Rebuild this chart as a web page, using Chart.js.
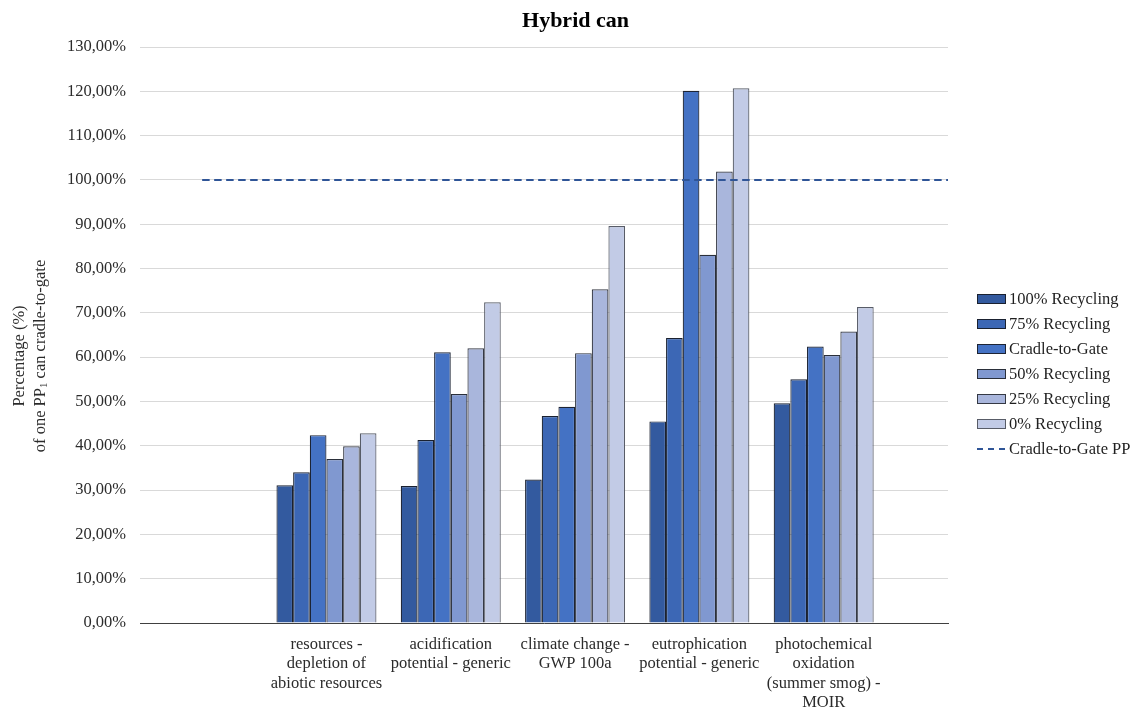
<!DOCTYPE html>
<html>
<head>
<meta charset="utf-8">
<title>Hybrid can</title>
<script src="https://cdn.jsdelivr.net/npm/chart.js@4.4.1/dist/chart.umd.min.js"></script>
<style>
  html, body { margin: 0; padding: 0; background: #ffffff; }
  canvas { display: block; }
</style>
</head>
<body>
<canvas id="chart" width="1138" height="711"></canvas>
<script>
// ---- data -------------------------------------------------------------
const chartTitle = 'Hybrid can';
const yTitleLine1 = 'Percentage (%)';
const yTitleLine2 = ['of one PP', '1', ' can cradle-to-gate']; // "1" is a subscript

// impact categories (first and last slots are empty)
const categories = [
  [''],
  ['resources -', 'depletion of', 'abiotic resources'],
  ['acidification', 'potential - generic'],
  ['climate change -', 'GWP 100a'],
  ['eutrophication', 'potential - generic'],
  ['photochemical', 'oxidation', '(summer smog) -', 'MOIR'],
  ['']
];

const seriesNames = [
  '100% Recycling', '75% Recycling', 'Cradle-to-Gate',
  '50% Recycling', '25% Recycling', '0% Recycling'
];
const lineName = 'Cradle-to-Gate PP';

// values in percent of one PP1 can cradle-to-gate
const recycling100 = [null, 31.1, 30.9, 32.4, 45.5, 49.6, null];
const recycling75  = [null, 34.0, 41.3, 46.7, 64.3, 55.0, null];
const cradleToGate = [null, 42.4, 61.1, 48.8, 120.1, 62.4, null];
const recycling50  = [null, 37.0, 51.7, 60.9, 83.1, 60.5, null];
const recycling25  = [null, 39.9, 62.0, 75.3, 101.9, 65.8, null];
const recycling0   = [null, 42.8, 72.4, 89.6, 120.7, 71.3, null];
const cradleToGatePP = [100, 100, 100, 100, 100, 100, 100];

const yTicks = [0, 10, 20, 30, 40, 50, 60, 70, 80, 90, 100, 110, 120, 130];

// ---- styles -----------------------------------------------------------
const barFills   = ['#335a9f', '#3c67b5', '#4472c4', '#8098d0', '#a9b6dc', '#c2cbe6'];
const barBorders = ['#1a2130', '#1a2130', '#1d2434', '#2a2f3a', '#353944', '#585c67'];
const lineColor  = '#2f5597';
const textColor  = '#2b2b2b';
const serif = '"Liberation Serif", "Times New Roman", serif';

const seriesValues = [recycling100, recycling75, cradleToGate, recycling50, recycling25, recycling0];
const toPoints = (arr) => arr.map((v, i) => ({ x: i, y: v }));

const datasets = [
  {
    type: 'line',
    label: lineName,
    data: toPoints(cradleToGatePP),
    borderColor: lineColor,
    borderWidth: 2,
    borderDash: [7.5, 4.5],
    pointRadius: 0,
    fill: false,
    order: -1
  },
  ...seriesNames.map((name, k) => ({
    type: 'bar',
    label: name,
    data: toPoints(seriesValues[k]),
    backgroundColor: barFills[k],
    borderColor: barBorders[k],
    borderWidth: 1.2,
    categoryPercentage: 0.8045,
    barPercentage: 1.0
  }))
];

// ---- title, rotated axis title and legend ------------------------------
const decorations = {
  id: 'decorations',
  afterDraw(chart) {
    const ctx = chart.ctx;
    ctx.save();

    // chart title
    ctx.fillStyle = '#000000';
    ctx.font = 'bold 22px ' + serif;
    ctx.textAlign = 'center';
    ctx.textBaseline = 'alphabetic';
    ctx.fillText(chartTitle, 575.5, 26.5);

    // y axis title, two rotated lines
    const mainFont = '16.5px ' + serif;
    const subFont = '11px ' + serif;
    ctx.fillStyle = textColor;
    ctx.font = mainFont;
    ctx.save();
    ctx.translate(19.5, 356);
    ctx.rotate(-Math.PI / 2);
    ctx.textAlign = 'center';
    ctx.textBaseline = 'middle';
    ctx.fillText(yTitleLine1, 0, 0);
    ctx.restore();

    ctx.save();
    ctx.translate(40.5, 356);
    ctx.rotate(-Math.PI / 2);
    ctx.textBaseline = 'middle';
    ctx.textAlign = 'left';
    ctx.font = mainFont;
    const w0 = ctx.measureText(yTitleLine2[0]).width;
    const w2 = ctx.measureText(yTitleLine2[2]).width;
    ctx.font = subFont;
    const w1 = ctx.measureText(yTitleLine2[1]).width;
    let x = -(w0 + w1 + w2) / 2;
    ctx.font = mainFont;
    ctx.fillText(yTitleLine2[0], x, 0);
    x += w0;
    ctx.font = subFont;
    ctx.fillText(yTitleLine2[1], x, 4);
    x += w1;
    ctx.font = mainFont;
    ctx.fillText(yTitleLine2[2], x, 0);
    ctx.restore();

    // legend
    const items = chart.data.datasets.filter(d => d.type === 'bar')
      .concat(chart.data.datasets.filter(d => d.type === 'line'));
    const lx = 977, top = 299, step = 25, bw = 29, bh = 10;
    ctx.font = mainFont;
    ctx.textAlign = 'left';
    ctx.textBaseline = 'middle';
    items.forEach((d, i) => {
      const cy = top + i * step;
      if (d.type === 'bar') {
        ctx.fillStyle = d.backgroundColor;
        ctx.fillRect(lx, cy - bh / 2, bw, bh);
        ctx.strokeStyle = d.borderColor;
        ctx.lineWidth = 1;
        ctx.strokeRect(lx + 0.5, cy - bh / 2 + 0.5, bw - 1, bh - 1);
      } else {
        ctx.strokeStyle = d.borderColor;
        ctx.lineWidth = 2;
        ctx.setLineDash([6, 5]);
        ctx.beginPath();
        ctx.moveTo(lx, cy);
        ctx.lineTo(lx + bw, cy);
        ctx.stroke();
        ctx.setLineDash([]);
      }
      ctx.fillStyle = '#1f1f1f';
      ctx.fillText(d.label, lx + bw + 3, cy + 1);
    });

    ctx.restore();
  }
};

new Chart(document.getElementById('chart'), {
  data: { datasets },
  options: {
    responsive: false,
    animation: false,
    devicePixelRatio: 1,
    layout: { padding: { left: 0, right: 190, top: 47, bottom: 0 } },
    plugins: {
      legend: { display: false },
      title: { display: false },
      tooltip: { enabled: false }
    },
    scales: {
      x: {
        type: 'linear',
        min: -0.5,
        max: categories.length - 1,
        offset: false,
        grid: { display: false, offset: false, drawTicks: false },
        border: { display: true, color: '#404040', width: 1 },
        afterBuildTicks: (scale) => { scale.ticks = categories.map((_, i) => ({ value: i })); },
        afterFit: (scale) => { scale.height = 88; },
        ticks: {
          autoSkip: false,
          maxRotation: 0,
          minRotation: 0,
          padding: 12,
          color: textColor,
          font: { family: serif, size: 16.5, lineHeight: 1.17 },
          callback: (value) => categories[value] || ''
        }
      },
      y: {
        type: 'linear',
        min: 0,
        max: 130,
        grid: { color: '#d9d9d9', lineWidth: 1, drawTicks: false },
        border: { display: false },
        afterBuildTicks: (scale) => { scale.ticks = yTicks.map(v => ({ value: v })); },
        afterFit: (scale) => { scale.width = 140; },
        ticks: {
          padding: 14,
          color: textColor,
          font: { family: serif, size: 16.5 },
          callback: (v) => v.toFixed(2).replace('.', ',') + '%'
        }
      }
    }
  },
  plugins: [decorations]
});
</script>
</body>
</html>
